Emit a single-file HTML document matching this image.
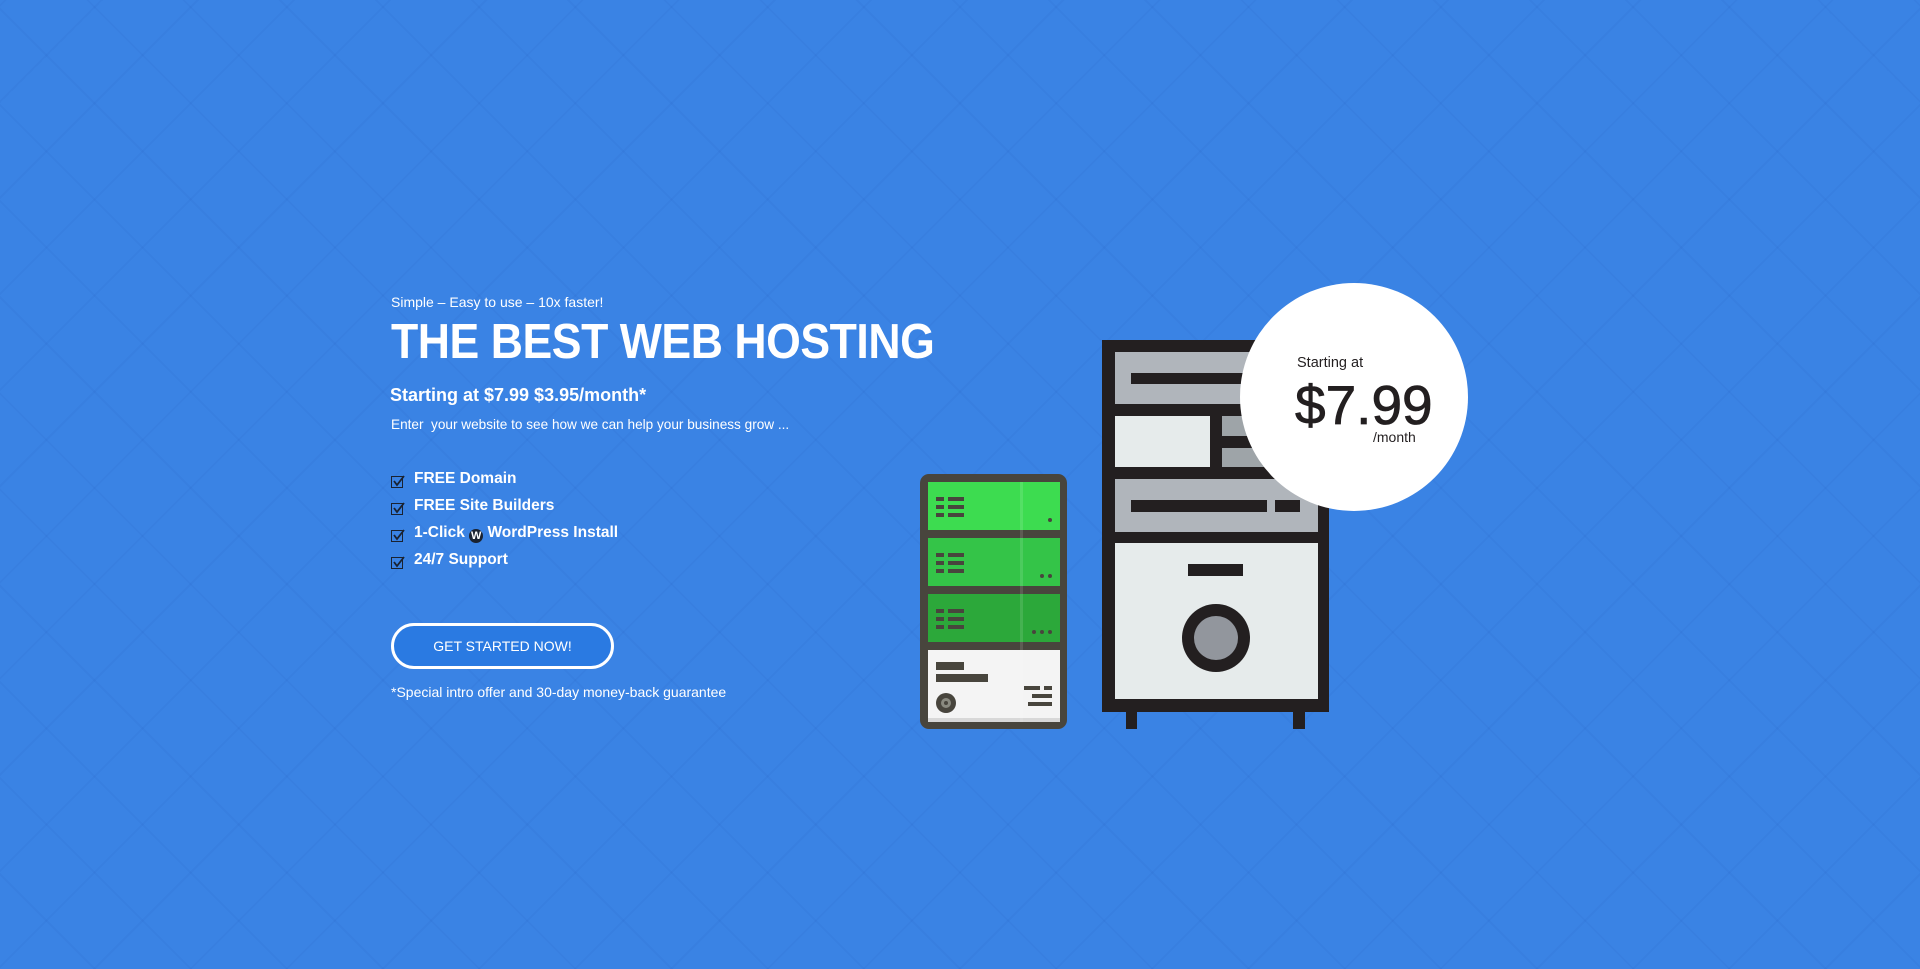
<!DOCTYPE html>
<html><head><meta charset="utf-8"><style>
html,body{margin:0;padding:0}
body{width:1920px;height:969px;overflow:hidden;position:relative;background:#3a83e4;font-family:"Liberation Sans",sans-serif;color:#fff}
.bg{position:absolute;inset:0;background:
repeating-linear-gradient(45deg,rgba(0,0,0,0) 0 66px,rgba(20,60,160,.06) 66px 68px),
repeating-linear-gradient(-45deg,rgba(0,0,0,0) 0 66px,rgba(20,60,160,.06) 66px 68px);}
.t{position:absolute;white-space:nowrap}
.chk{position:absolute;width:10px;height:10px;border:1.5px solid #1a2230;}
</style></head><body>
<div class="bg"></div>
<div class="t" style="left:391px;top:294px;font-size:14px">Simple – Easy to use – 10x faster!</div>
<div class="t" style="left:391px;top:314px;font-size:49px;font-weight:bold;letter-spacing:-0.5px;transform:scaleX(0.91);transform-origin:0 0">THE BEST WEB HOSTING</div>
<div class="t" style="left:390px;top:385px;font-size:18px;font-weight:bold">Starting at $7.99 $3.95/month*</div>
<div class="t" style="left:391px;top:417px;font-size:13.6px">Enter&nbsp; your website to see how we can help your business grow ...</div>

<div class="chk" style="left:391px;top:476px"></div><div class="t" style="left:414px;top:470px;font-size:15.5px;font-weight:bold">FREE Domain</div>
<div class="chk" style="left:391px;top:503px"></div><div class="t" style="left:414px;top:497px;font-size:15.5px;font-weight:bold">FREE Site Builders</div>
<div class="chk" style="left:391px;top:530px"></div><div class="t" style="left:414px;top:524px;font-size:15.5px;font-weight:bold">1-Click <span style="display:inline-block;width:14px;height:14px;border-radius:50%;background:#1a2230;color:#fff;font-size:11px;line-height:14px;text-align:center;vertical-align:-2px">W</span> WordPress Install</div>
<div class="chk" style="left:391px;top:557px"></div><div class="t" style="left:414px;top:551px;font-size:15.5px;font-weight:bold">24/7 Support</div>

<div style="position:absolute;left:391px;top:623px;width:217px;height:40px;border:3px solid #fff;border-radius:24px;background:#2a7ae2;font-size:14px;line-height:40px;text-align:center">GET STARTED NOW!</div>
<div class="t" style="left:391px;top:684px;font-size:14px">*Special intro offer and 30-day money-back guarantee</div>

<svg style="position:absolute;left:0;top:0" width="1920" height="969">
<rect x="920" y="474" width="147" height="255" rx="9" fill="#48453d"/>
<rect x="928" y="482" width="132" height="48" fill="#3ddc50"/>
<rect x="928" y="538" width="132" height="48" fill="#34c448"/>
<rect x="928" y="594" width="132" height="48" fill="#2ca83a"/>
<rect x="928" y="650" width="132" height="72" fill="#f4f4f4"/>
<rect x="928" y="718" width="132" height="4" fill="#d8d8d8"/>
<g fill="#fff" opacity=".12"><rect x="1020" y="482" width="3" height="240"/></g>
<g fill="#48453d">
<rect x="936" y="497" width="8" height="4"/><rect x="948" y="497" width="16" height="4"/>
<rect x="936" y="505" width="8" height="4"/><rect x="948" y="505" width="16" height="4"/>
<rect x="936" y="513" width="8" height="4"/><rect x="948" y="513" width="16" height="4"/>
<circle cx="1050" cy="520" r="2"/>
<rect x="936" y="553" width="8" height="4"/><rect x="948" y="553" width="16" height="4"/>
<rect x="936" y="561" width="8" height="4"/><rect x="948" y="561" width="16" height="4"/>
<rect x="936" y="569" width="8" height="4"/><rect x="948" y="569" width="16" height="4"/>
<circle cx="1042" cy="576" r="2"/><circle cx="1050" cy="576" r="2"/>
<rect x="936" y="609" width="8" height="4"/><rect x="948" y="609" width="16" height="4"/>
<rect x="936" y="617" width="8" height="4"/><rect x="948" y="617" width="16" height="4"/>
<rect x="936" y="625" width="8" height="4"/><rect x="948" y="625" width="16" height="4"/>
<circle cx="1034" cy="632" r="2"/><circle cx="1042" cy="632" r="2"/><circle cx="1050" cy="632" r="2"/>
<rect x="936" y="662" width="28" height="8"/><rect x="936" y="674" width="52" height="8"/>
<rect x="1024" y="686" width="16" height="4"/><rect x="1044" y="686" width="8" height="4"/>
<rect x="1032" y="694" width="20" height="4"/><rect x="1028" y="702" width="24" height="4"/>
<circle cx="946" cy="703" r="10"/>
</g>
<circle cx="946" cy="703" r="5" fill="#8a8a80"/><circle cx="946" cy="703" r="2" fill="#48453d"/>
<rect x="1126" y="700" width="11" height="29" fill="#231f20"/>
<rect x="1293" y="700" width="12" height="29" fill="#231f20"/>
<rect x="1102" y="340" width="227" height="372" fill="#231f20"/>
<rect x="1115" y="352" width="203" height="52" fill="#b0b5bb"/>
<rect x="1131" y="373" width="180" height="11" fill="#231f20"/>
<rect x="1115" y="416" width="95" height="51" fill="#e6ebeb"/>
<rect x="1222" y="416" width="96" height="20" fill="#9ea4a8"/>
<rect x="1222" y="448" width="96" height="19" fill="#9ea4a8"/>
<rect x="1115" y="479" width="203" height="53" fill="#b0b5bb"/>
<rect x="1131" y="500" width="136" height="12" fill="#231f20"/>
<rect x="1275" y="500" width="25" height="12" fill="#231f20"/>
<rect x="1115" y="543" width="203" height="156" fill="#e6ebeb"/>
<rect x="1188" y="564" width="55" height="12" fill="#231f20"/>
<circle cx="1216" cy="638" r="34" fill="#231f20"/>
<circle cx="1216" cy="638" r="22" fill="#92969d"/>
<circle cx="1354" cy="397" r="114" fill="#fff"/>
<text x="1297" y="367" font-family="Liberation Sans" font-size="14.5" fill="#231f20">Starting at</text>
<text x="1295" y="424" font-family="Liberation Sans" font-size="55" fill="#231f20" stroke="#231f20" stroke-width="0.8">$7.99</text>
<text x="1373" y="442" font-family="Liberation Sans" font-size="14" fill="#231f20">/month</text>
</svg>
<svg style="position:absolute;left:0;top:0" width="420" height="600">
<g stroke="#1a2230" stroke-width="1.8" fill="none">
<path d="M394 481l3 4 7-9"/><path d="M394 508l3 4 7-9"/><path d="M394 535l3 4 7-9"/><path d="M394 562l3 4 7-9"/>
</g></svg>
</body></html>
